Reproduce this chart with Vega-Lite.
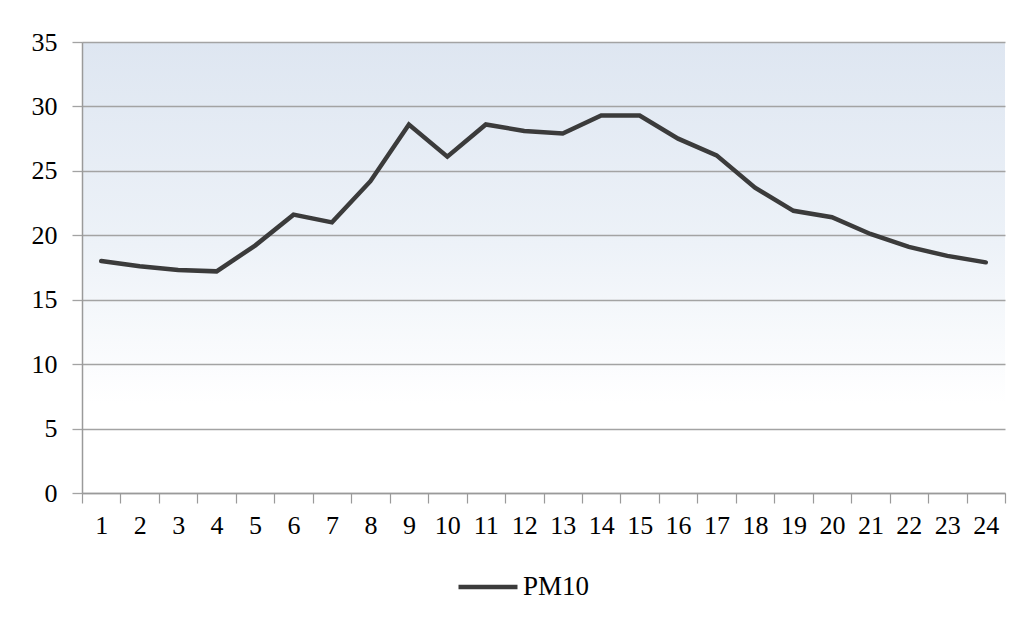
{
  "$schema": "https://vega.github.io/schema/vega-lite/v6.json",
  "autosize": "none",
  "width": 923,
  "height": 451,
  "padding": {"left": 82, "top": 42, "right": 22, "bottom": 130},
  "background": "#ffffff",
  "config": {
    "view": {
      "stroke": null,
      "fill": {
        "x1": 0, "y1": 0, "x2": 0, "y2": 1,
        "gradient": "linear",
        "stops": [
          {"offset": 0, "color": "#dee6f1"},
          {"offset": 0.45, "color": "#edf2f8"},
          {"offset": 0.8, "color": "#ffffff"},
          {"offset": 1, "color": "#ffffff"}
        ]
      }
    },
    "font": "Liberation Serif"
  },
  "data": {
    "values": [
      {"hour": 1, "value": 18.0, "series": "PM10"},
      {"hour": 2, "value": 17.6, "series": "PM10"},
      {"hour": 3, "value": 17.3, "series": "PM10"},
      {"hour": 4, "value": 17.2, "series": "PM10"},
      {"hour": 5, "value": 19.2, "series": "PM10"},
      {"hour": 6, "value": 21.6, "series": "PM10"},
      {"hour": 7, "value": 21.0, "series": "PM10"},
      {"hour": 8, "value": 24.2, "series": "PM10"},
      {"hour": 9, "value": 28.6, "series": "PM10"},
      {"hour": 10, "value": 26.1, "series": "PM10"},
      {"hour": 11, "value": 28.6, "series": "PM10"},
      {"hour": 12, "value": 28.1, "series": "PM10"},
      {"hour": 13, "value": 27.9, "series": "PM10"},
      {"hour": 14, "value": 29.3, "series": "PM10"},
      {"hour": 15, "value": 29.3, "series": "PM10"},
      {"hour": 16, "value": 27.5, "series": "PM10"},
      {"hour": 17, "value": 26.2, "series": "PM10"},
      {"hour": 18, "value": 23.7, "series": "PM10"},
      {"hour": 19, "value": 21.9, "series": "PM10"},
      {"hour": 20, "value": 21.4, "series": "PM10"},
      {"hour": 21, "value": 20.1, "series": "PM10"},
      {"hour": 22, "value": 19.1, "series": "PM10"},
      {"hour": 23, "value": 18.4, "series": "PM10"},
      {"hour": 24, "value": 17.9, "series": "PM10"}
    ]
  },
  "mark": {"type": "line", "strokeWidth": 4.5, "strokeJoin": "miter", "strokeCap": "round"},
  "encoding": {
    "x": {
      "field": "hour",
      "type": "ordinal",
      "bandPosition": 0.5,
      "scale": {"type": "band", "paddingInner": 0, "paddingOuter": 0},
      "axis": {
        "title": null,
        "labelAngle": 0,
        "tickBand": "extent",
        "grid": false,
        "ticks": true,
        "tickSize": 10,
        "tickColor": "#9a9a9a",
        "tickWidth": 1.2,
        "domainColor": "#9a9a9a",
        "domainWidth": 1.5,
        "labelFont": "Liberation Serif",
        "labelFontSize": 26,
        "labelColor": "#000000",
        "labelPadding": 9
      }
    },
    "y": {
      "field": "value",
      "type": "quantitative",
      "scale": {"domain": [0, 35], "nice": false},
      "axis": {
        "title": null,
        "values": [0, 5, 10, 15, 20, 25, 30, 35],
        "grid": true,
        "gridColor": "#a3a3a3",
        "gridWidth": 1.3,
        "tickSize": 10,
        "tickColor": "#a3a3a3",
        "tickWidth": 1.3,
        "domainColor": "#9a9a9a",
        "domainWidth": 1.5,
        "labelFont": "Liberation Serif",
        "labelFontSize": 26,
        "labelColor": "#000000",
        "labelPadding": 15
      }
    },
    "color": {
      "field": "series",
      "type": "nominal",
      "scale": {"range": ["#3b3b3b"]},
      "legend": {
        "title": null,
        "orient": "none",
        "legendX": 374,
        "legendY": 513,
        "symbolType": "stroke",
        "symbolSize": 3480,
        "symbolStrokeWidth": 4.5,
        "labelFont": "Liberation Serif",
        "labelFontSize": 27,
        "labelColor": "#000000",
        "labelOffset": 3
      }
    }
  }
}
